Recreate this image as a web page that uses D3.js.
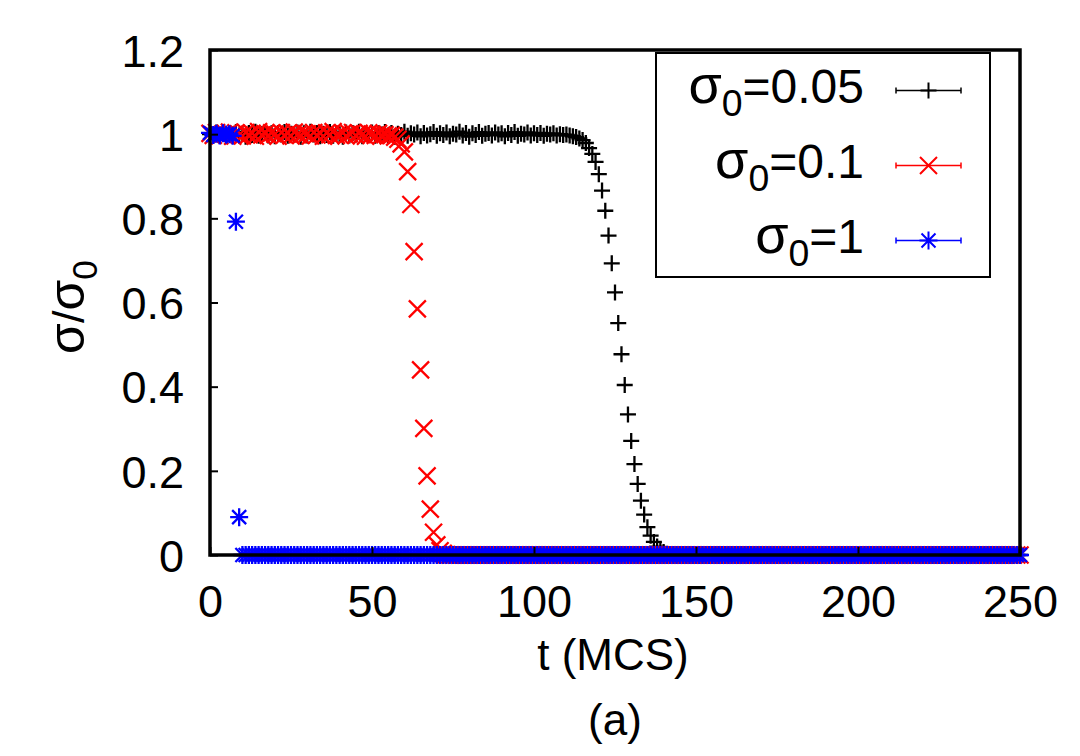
<!DOCTYPE html>
<html>
<head>
<meta charset="utf-8">
<script src="https://cdn.jsdelivr.net/npm/d3@7"></script>
<style>
  html, body { margin: 0; padding: 0; background: #fff; }
  svg { display: block; }
  text { font-family: "Liberation Sans", Arial, Helvetica, sans-serif; fill: #000; }
</style>
</head>
<body>
<svg id="chart" width="1080" height="756"></svg>
<script>
// ---------------- data ----------------
const tStart = 0;          // first sampled time (MCS)
const tStep = 1;           // sampling interval (MCS)

// sigma0 = 0.05  (t = 0 .. 250)
const black005 = [
  1.000,0.996,1.004,0.998,1.003,0.995,1.002,0.999,1.005,0.997,
  1.001,0.994,1.003,0.998,1.006,0.996,1.000,1.004,0.997,1.002,
  0.995,1.003,0.999,1.005,0.996,1.001,0.998,1.004,0.994,1.002,
  0.997,1.006,0.999,1.003,0.995,1.001,0.998,1.005,0.996,1.002,
  1.000,0.994,1.004,0.997,1.003,0.999,1.006,0.995,1.001,0.998,
  1.004,0.996,1.002,0.999,1.005,0.997,1.003,0.994,1.001,0.998,
  1.006,0.996,1.002,0.999,1.004,0.995,1.003,0.997,1.000,1.005,
  0.996,1.002,0.998,1.004,0.995,1.001,0.999,1.006,0.997,1.003,
  0.994,1.002,0.998,1.005,0.996,1.001,1.003,0.997,1.004,0.999,
  1.002,0.995,1.003,0.998,1.005,0.996,1.001,0.999,1.004,0.997,
  1.002,0.998,1.003,0.996,1.001,0.999,1.002,0.997,1.000,0.998,
  0.999,0.997,0.995,
  0.993,0.990,0.986,0.979,0.967,0.953,0.934,0.905,0.866,0.818,
  0.759,0.693,0.624,0.551,0.477,0.404,0.334,0.271,0.216,0.169,
  0.129,0.096,0.066,0.046,0.031,0.020,0.012,0.007,0.003,0.001,
  0,0,0,0,0,0,0,0,0,0, 0,0,0,0,0,0,0,0,0,0,
  0,0,0,0,0,0,0,0,0,0, 0,0,0,0,0,0,0,0,0,0,
  0,0,0,0,0,0,0,0,0,0, 0,0,0,0,0,0,0,0,0,0,
  0,0,0,0,0,0,0,0,0,0, 0,0,0,0,0,0,0,0,0,0,
  0,0,0,0,0,0,0,0,0,0, 0,0,0,0,0,0,0,0,0,0,
  0,0,0,0,0,0,0,0
];

// sigma0 = 0.1  (t = 0 .. 250)
const red01 = [
  1.002,0.997,1.004,0.996,1.001,0.999,1.005,0.995,1.003,0.998,
  0.996,1.004,0.999,1.002,0.995,1.006,0.998,1.001,0.997,1.003,
  1.000,0.995,1.004,0.998,1.002,0.996,1.005,0.999,0.997,1.003,
  1.001,0.996,1.004,0.998,1.002,0.995,1.003,0.999,1.006,0.997,
  0.998,1.003,0.996,1.001,1.004,0.997,1.002,0.999,0.995,1.003,
  1.000,0.997,1.002,0.998,0.999,0.996,0.997,0.993,
  0.988,0.977,0.958,0.911,0.833,0.721,0.585,0.440,0.301,0.188,
  0.109,0.054,0.024,0.010,0.004,0.001,
  0,0,0,0,0,0,0,0,0,0, 0,0,0,0,0,0,0,0,0,0,
  0,0,0,0,0,0,0,0,0,0, 0,0,0,0,0,0,0,0,0,0,
  0,0,0,0,0,0,0,0,0,0, 0,0,0,0,0,0,0,0,0,0,
  0,0,0,0,0,0,0,0,0,0, 0,0,0,0,0,0,0,0,0,0,
  0,0,0,0,0,0,0,0,0,0, 0,0,0,0,0,0,0,0,0,0,
  0,0,0,0,0,0,0,0,0,0, 0,0,0,0,0,0,0,0,0,0,
  0,0,0,0,0,0,0,0,0,0, 0,0,0,0,0,0,0,0,0,0,
  0,0,0,0,0,0,0,0,0,0, 0,0,0,0,0,0,0,0,0,0,
  0,0,0,0,0,0,0,0,0,0,
  0,0,0,0,0,0,0
];

// sigma0 = 1  (t = 0 .. 250)
const blue1 = [
  1.003,0.998,1.001,0.997,1.002,0.999,1.000,0.996,
  0.792,0.090,
  0,0,0,0,0,0,0,0,0,0, 0,0,0,0,0,0,0,0,0,0,
  0,0,0,0,0,0,0,0,0,0, 0,0,0,0,0,0,0,0,0,0,
  0,0,0,0,0,0,0,0,0,0, 0,0,0,0,0,0,0,0,0,0,
  0,0,0,0,0,0,0,0,0,0, 0,0,0,0,0,0,0,0,0,0,
  0,0,0,0,0,0,0,0,0,0, 0,0,0,0,0,0,0,0,0,0,
  0,0,0,0,0,0,0,0,0,0, 0,0,0,0,0,0,0,0,0,0,
  0,0,0,0,0,0,0,0,0,0, 0,0,0,0,0,0,0,0,0,0,
  0,0,0,0,0,0,0,0,0,0, 0,0,0,0,0,0,0,0,0,0,
  0,0,0,0,0,0,0,0,0,0, 0,0,0,0,0,0,0,0,0,0,
  0,0,0,0,0,0,0,0,0,0, 0,0,0,0,0,0,0,0,0,0,
  0,0,0,0,0,0,0,0,0,0, 0,0,0,0,0,0,0,0,0,0,
  0,0,0,0,0,0,0,0,0,0, 0,0,0,0,0,0,0,0,0,0,
  0
];

const seriesNames = ["0.05", "0.1", "1"];
const seriesColors = ["#000000", "#ff0000", "#0000ff"];
const seriesSymbols = ["plus", "times", "star"];
const seriesValues = [black005, red01, blue1];

const xTicks = [0, 50, 100, 150, 200, 250];
const yTicks = [0, 0.2, 0.4, 0.6, 0.8, 1, 1.2];
const xDomain = [0, 250];
const yDomain = [0, 1.2];

// ---------------- layout ----------------
const plot = { left: 210, right: 1020, top: 50, bottom: 555 };
const FONT = 45;
const LFONT = 48;

const svg = d3.select("#chart");

const x = d3.scaleLinear().domain(xDomain).range([plot.left, plot.right]);
const y = d3.scaleLinear().domain(yDomain).range([plot.bottom, plot.top]);

// symbol path generators (stroke-only glyphs)
function symbolPath(kind) {
  if (kind === "plus") {
    const a = 8;
    return `M${-a},0H${a}M0,${-a}V${a}`;
  }
  if (kind === "times") {
    const a = 8.5;
    return `M${-a},${-a}L${a},${a}M${-a},${a}L${a},${-a}`;
  }
  // star = plus + times
  const a = 9, b = 7;
  return `M${-a},0H${a}M0,${-a}V${a}M${-b},${-b}L${b},${b}M${-b},${b}L${b},${-b}`;
}

// ---------------- data marks ----------------
const gData = svg.append("g");
seriesValues.forEach((vals, si) => {
  const pts = vals.map((v, i) => ({ t: tStart + i * tStep, v }));
  gData.append("g")
    .attr("fill", "none")
    .attr("stroke", seriesColors[si])
    .attr("stroke-width", 2.3)
    .selectAll("path")
    .data(pts)
    .join("path")
    .attr("transform", d => `translate(${x(d.t)},${y(d.v)})`)
    .attr("d", symbolPath(seriesSymbols[si]));
});

// ---------------- axes ----------------
const xAxis = d3.axisBottom(x).tickValues(xTicks).tickSize(-8).tickPadding(30)
  .tickFormat(d3.format("d"));
const yAxis = d3.axisLeft(y).tickValues(yTicks).tickSize(-8).tickPadding(26)
  .tickFormat(d => d === 0 || d === 1 ? String(d) : d3.format(".1f")(d));

const gx = svg.append("g").attr("transform", `translate(0,${plot.bottom})`).call(xAxis);
const gy = svg.append("g").attr("transform", `translate(${plot.left},0)`).call(yAxis);
[gx, gy].forEach(g => {
  g.select(".domain").remove();
  g.selectAll(".tick line").attr("stroke", "#000").attr("stroke-width", 2);
  g.selectAll(".tick text").attr("font-size", FONT).attr("fill", "#000")
    .style("font-family", '"Liberation Sans", Arial, Helvetica, sans-serif');
});
gx.selectAll(".tick text").attr("dy", null).attr("y", 62);
gy.selectAll(".tick text").attr("dy", "0.36em");

// frame
svg.append("rect")
  .attr("x", plot.left).attr("y", plot.top)
  .attr("width", plot.right - plot.left).attr("height", plot.bottom - plot.top)
  .attr("fill", "none").attr("stroke", "#000").attr("stroke-width", 3.5);

// axis titles
svg.append("text")
  .attr("x", 613).attr("y", 670)
  .attr("text-anchor", "middle").attr("font-size", 44)
  .text("t (MCS)");

svg.append("text")
  .attr("x", 615).attr("y", 735)
  .attr("text-anchor", "middle").attr("font-size", 44)
  .text("(a)");

const yl = svg.append("text")
  .attr("transform", "translate(84,307) rotate(-90)")
  .attr("text-anchor", "middle").attr("font-size", FONT);
yl.append("tspan").attr("font-size", 50).text("σ");
yl.append("tspan").text("/");
yl.append("tspan").attr("font-size", 50).text("σ");
yl.append("tspan").attr("font-size", FONT * 0.78).attr("dy", 13).text("0");

// ---------------- legend ----------------
const legend = { left: 656, right: 990, top: 53, bottom: 277 };
svg.append("rect")
  .attr("x", legend.left).attr("y", legend.top)
  .attr("width", legend.right - legend.left).attr("height", legend.bottom - legend.top)
  .attr("fill", "#fff").attr("stroke", "#000").attr("stroke-width", 2);

const rowY = [90.5, 165.5, 240.5];
seriesNames.forEach((name, i) => {
  const ty = rowY[i];
  const t = svg.append("text")
    .attr("x", 864).attr("y", ty + 12)
    .attr("text-anchor", "end").attr("font-size", LFONT);
  t.append("tspan").attr("font-size", 54).text("σ");
  t.append("tspan").attr("font-size", LFONT * 0.78).attr("dy", 13).text("0");
  t.append("tspan").attr("dy", -13).text("=" + name);

  const g = svg.append("g").attr("stroke", seriesColors[i]).attr("fill", "none");
  g.append("line").attr("x1", 896).attr("x2", 961).attr("y1", ty).attr("y2", ty)
    .attr("stroke-width", 1.5);
  g.append("line").attr("x1", 896).attr("x2", 896).attr("y1", ty - 3).attr("y2", ty + 3)
    .attr("stroke-width", 1.5);
  g.append("line").attr("x1", 961).attr("x2", 961).attr("y1", ty - 3).attr("y2", ty + 3)
    .attr("stroke-width", 1.5);
  g.append("path").attr("transform", `translate(928.5,${ty})`)
    .attr("stroke-width", 2)
    .attr("d", symbolPath(seriesSymbols[i]));
});
</script>
</body>
</html>
